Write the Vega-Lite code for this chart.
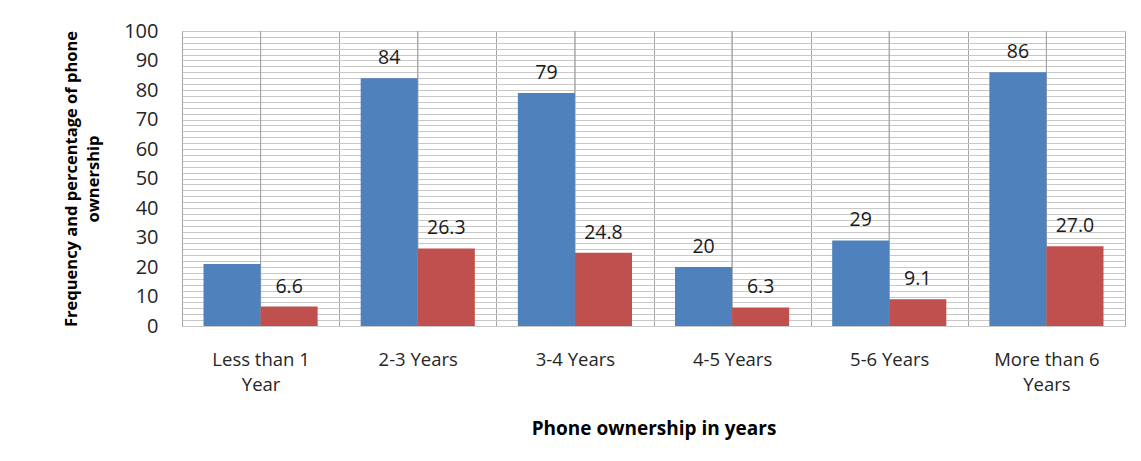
{
  "$schema": "https://vega.github.io/schema/vega-lite/v6.json",
  "width": 943,
  "height": 295,
  "autosize": "none",
  "padding": {"left": 182, "top": 31, "right": 16, "bottom": 135},
  "background": "white",
  "config": {
    "font": "Open Sans",
    "view": {"stroke": "#8c8c8c", "strokeWidth": 1},
    "axis": {"labelFont": "Open Sans", "titleFont": "Open Sans", "labelColor": "#262626", "titleColor": "#000000"}
  },
  "data": {
    "values": [
      {"period": "Less than 1 Year", "series": "Frequency", "value": 21, "label": ""},
      {"period": "Less than 1 Year", "series": "Percentage", "value": 6.6, "label": "6.6"},
      {"period": "2-3 Years", "series": "Frequency", "value": 84, "label": "84"},
      {"period": "2-3 Years", "series": "Percentage", "value": 26.3, "label": "26.3"},
      {"period": "3-4 Years", "series": "Frequency", "value": 79, "label": "79"},
      {"period": "3-4 Years", "series": "Percentage", "value": 24.8, "label": "24.8"},
      {"period": "4-5 Years", "series": "Frequency", "value": 20, "label": "20"},
      {"period": "4-5 Years", "series": "Percentage", "value": 6.3, "label": "6.3"},
      {"period": "5-6 Years", "series": "Frequency", "value": 29, "label": "29"},
      {"period": "5-6 Years", "series": "Percentage", "value": 9.1, "label": "9.1"},
      {"period": "More than 6 Years", "series": "Frequency", "value": 86, "label": "86"},
      {"period": "More than 6 Years", "series": "Percentage", "value": 27.0, "label": "27.0"}
    ]
  },
  "encoding": {
    "x": {
      "field": "period",
      "type": "nominal",
      "sort": null,
      "scale": {"paddingInner": 0, "paddingOuter": 0},
      "axis": {
        "title": "Phone ownership in years",
        "titleFontSize": 19,
        "titleFontWeight": "bold",
        "titlePadding": 26,
        "labelAngle": 0,
        "labelFontSize": 18.5,
        "labelLineHeight": 25,
        "labelPadding": 24,
        "labelExpr": "datum.label == 'Less than 1 Year' ? ['Less than 1', 'Year'] : datum.label == 'More than 6 Years' ? ['More than 6', 'Years'] : datum.label",
        "ticks": false,
        "domain": false,
        "grid": true,
        "tickBand": "extent",
        "gridColor": "#a6a6a6",
        "gridWidth": 1
      }
    },
    "y": {
      "field": "value",
      "type": "quantitative",
      "scale": {"domain": [0, 100], "nice": false},
      "axis": {
        "title": ["Frequency and percentage of phone", "ownership"],
        "titleFontSize": 16.5,
        "titleFontWeight": "bold",
        "titleLineHeight": 22,
        "titlePadding": 22,
        "values": [0,2,4,6,8,10,12,14,16,18,20,22,24,26,28,30,32,34,36,38,40,42,44,46,48,50,52,54,56,58,60,62,64,66,68,70,72,74,76,78,80,82,84,86,88,90,92,94,96,98,100],
        "labelExpr": "datum.value % 10 == 0 ? datum.label : ''",
        "labelFontSize": 20,
        "labelPadding": 24,
        "ticks": false,
        "domain": false,
        "grid": true,
        "gridColor": "#c8c8c8",
        "gridWidth": 1
      }
    }
  },
  "layer": [
    {
      "mark": {"type": "rule", "color": "#a6a6a6", "strokeWidth": 1},
      "encoding": {
        "x": {"field": "period", "type": "nominal", "sort": null},
        "y": null
      }
    },
    {
      "mark": {"type": "bar"},
      "encoding": {
        "xOffset": {"field": "series", "type": "nominal", "scale": {"paddingInner": 0, "paddingOuter": 0.377}},
        "color": {
          "field": "series",
          "type": "nominal",
          "scale": {"domain": ["Frequency", "Percentage"], "range": ["#4F81BD", "#C0504D"]},
          "legend": null
        }
      }
    },
    {
      "mark": {"type": "text", "baseline": "alphabetic", "dy": -14, "fontSize": 19.5, "color": "#1a1a1a", "font": "Open Sans"},
      "encoding": {
        "xOffset": {"field": "series", "type": "nominal", "scale": {"paddingInner": 0, "paddingOuter": 0.377}},
        "text": {"field": "label"}
      }
    }
  ]
}
